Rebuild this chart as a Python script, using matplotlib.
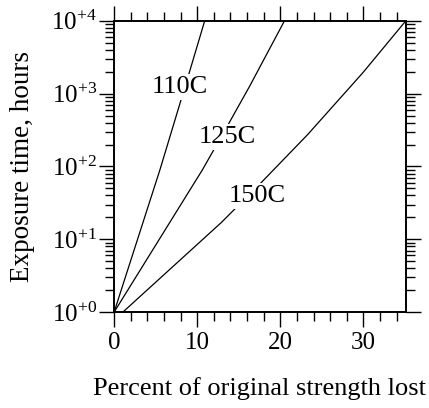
import matplotlib
matplotlib.use("Agg")
import matplotlib.pyplot as plt
from matplotlib.ticker import MultipleLocator, LogLocator, FixedLocator, NullFormatter

plt.rcParams['font.family'] = ['Liberation Serif', 'DejaVu Serif']
plt.rcParams['mathtext.fontset'] = 'custom'
plt.rcParams['mathtext.rm'] = 'Liberation Serif'
plt.rcParams['mathtext.it'] = 'Liberation Serif:italic'

# data
x_110 = [0.0, 5.5, 9.1, 10.9]
y_110 = [1, 89, 2040, 10000]
x_125 = [0.0, 10.6, 13.7, 16.3, 20.5]
y_125 = [1, 89, 372, 1260, 10000]
x_150 = [1.05, 12.9, 17.8, 23.3, 29.95, 35.1]
y_150 = [1, 17, 61.7, 275, 1950, 10000]

curve_names = ['110C', '125C', '150C']
label_x = [7.95, 13.6, 17.2]
label_y = [1230, 251, 39.4]

x_ticks = [0, 10, 20, 30]
y_ticks = [1, 10, 100, 1000, 10000]
y_ticklabels = ['$10^{+0}$', '$10^{+1}$', '$10^{+2}$', '$10^{+3}$', '$10^{+4}$']

fig = plt.figure(figsize=(4.29, 4.08), dpi=100)
ax = fig.add_axes([0.266, 0.235, 0.680, 0.714])

for xs, ys in [(x_110, y_110), (x_125, y_125), (x_150, y_150)]:
    ax.plot(xs, ys, color='black', lw=0.9, zorder=2)

for name, lx, ly in zip(curve_names, label_x, label_y):
    ax.text(lx, ly, name, fontsize=19, ha='center', va='center', zorder=3,
            bbox=dict(facecolor='white', edgecolor='none', pad=1.5))

ax.set_yscale('log')
ax.set_xlim(0, 35.1)
ax.set_ylim(1, 10000)

ax.xaxis.set_major_locator(FixedLocator(x_ticks))
ax.xaxis.set_minor_locator(MultipleLocator(2))
ax.yaxis.set_major_locator(FixedLocator(y_ticks))
ax.yaxis.set_minor_locator(LogLocator(base=10, subs=range(2, 10)))
ax.yaxis.set_minor_formatter(NullFormatter())
ax.set_yticklabels(y_ticklabels)

ax.tick_params(which='both', direction='out', top=True, right=True,
               labeltop=False, labelright=False, width=1.0, labelsize=18)
ax.tick_params(which='major', length=10.5)
ax.tick_params(which='minor', length=6.5)
ax.tick_params(axis='y', which='major', pad=2)

for s in ax.spines.values():
    s.set_linewidth(1.4)

ax.set_xlabel('Percent of original strength lost', fontsize=19, labelpad=17)
ax.set_ylabel('Exposure time, hours', fontsize=19.5, labelpad=12)

fig.savefig('out.png', dpi=100)
